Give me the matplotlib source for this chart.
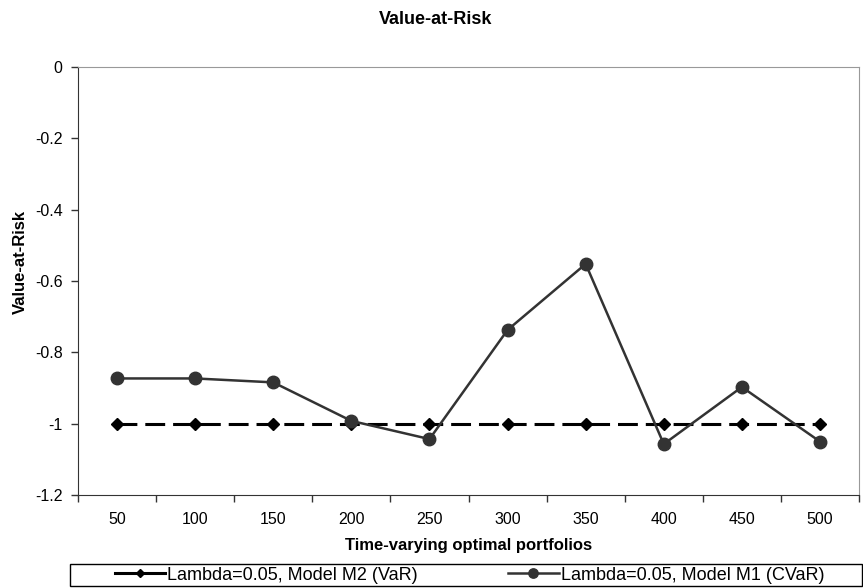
import numpy as np
import matplotlib.pyplot as plt
from matplotlib.patches import Rectangle

plt.rcParams['font.family'] = ['Liberation Sans', 'DejaVu Sans']

# portfolio index and risk values
portfolios = ['50', '100', '150', '200', '250', '300', '350', '400', '450', '500']
var_m2 = [-1.0, -1.0, -1.0, -1.0, -1.0, -1.0, -1.0, -1.0, -1.0, -1.0]
cvar_m1 = [-0.873, -0.873, -0.884, -0.992, -1.043, -0.737, -0.552, -1.057, -0.897, -1.050]

x = np.arange(len(portfolios))

fig = plt.figure(figsize=(8.63, 5.88), dpi=100)
ax = fig.add_axes([0.0904, 0.158, 0.905, 0.728])

ax.plot(x, var_m2, color='black', linestyle=(0, (6.5, 2.6)), linewidth=2.2,
        marker='D', markersize=6, label='Lambda=0.05, Model M2 (VaR)')
ax.plot(x, cvar_m1, color='#333333', linewidth=1.8,
        marker='o', markersize=9, label='Lambda=0.05, Model M1 (CVaR)')

ax.set_xlim(-0.5, len(portfolios) - 0.5)
ax.set_ylim(-1.2, 0)
ax.set_yticks([0, -0.2, -0.4, -0.6, -0.8, -1.0, -1.2])
ax.set_yticklabels(['0', '-0.2', '-0.4', '-0.6', '-0.8', '-1', '-1.2'])

# labels at category centres, tick marks at category boundaries
ax.set_xticks(x)
ax.set_xticklabels(portfolios)
ax.set_xticks(np.arange(-0.5, len(portfolios)), minor=True)
ax.tick_params(axis='x', which='major', length=0, pad=12, labelsize=11.5)
ax.tick_params(axis='x', which='minor', length=5, width=1, color='#333333')
ax.tick_params(axis='y', length=5, width=1, color='#333333', labelsize=11.5, pad=6)

for side in ['top', 'right']:
    ax.spines[side].set_color('#999999')
for side in ['left', 'bottom']:
    ax.spines[side].set_color('#333333')

fig.text(0.505, 1 - 19 / 588, 'Value-at-Risk', fontsize=13, fontweight='bold',
         ha='center', va='center')
ax.set_xlabel('Time-varying optimal portfolios', fontsize=12, fontweight='bold', labelpad=8)
fig.text(20 / 863, 1 - 262 / 588, 'Value-at-Risk', fontsize=12, fontweight='bold',
         rotation=90, ha='center', va='center')

# legend row with its own frame along the bottom
fig.patches.append(Rectangle((70 / 863, 2 / 588), 792 / 863, 22 / 588,
                             transform=fig.transFigure, fill=False,
                             edgecolor='black', linewidth=1))
leg = fig.legend(loc='center', bbox_to_anchor=(0.544, 1 - 575 / 588), ncol=2,
                 frameon=False, fontsize=13, handlelength=2.8, handletextpad=0.1,
                 columnspacing=5.0, markerscale=0.75, borderaxespad=0)
leg.legend_handles[0].set_linestyle('-')

fig.savefig('out.png', dpi=100)
